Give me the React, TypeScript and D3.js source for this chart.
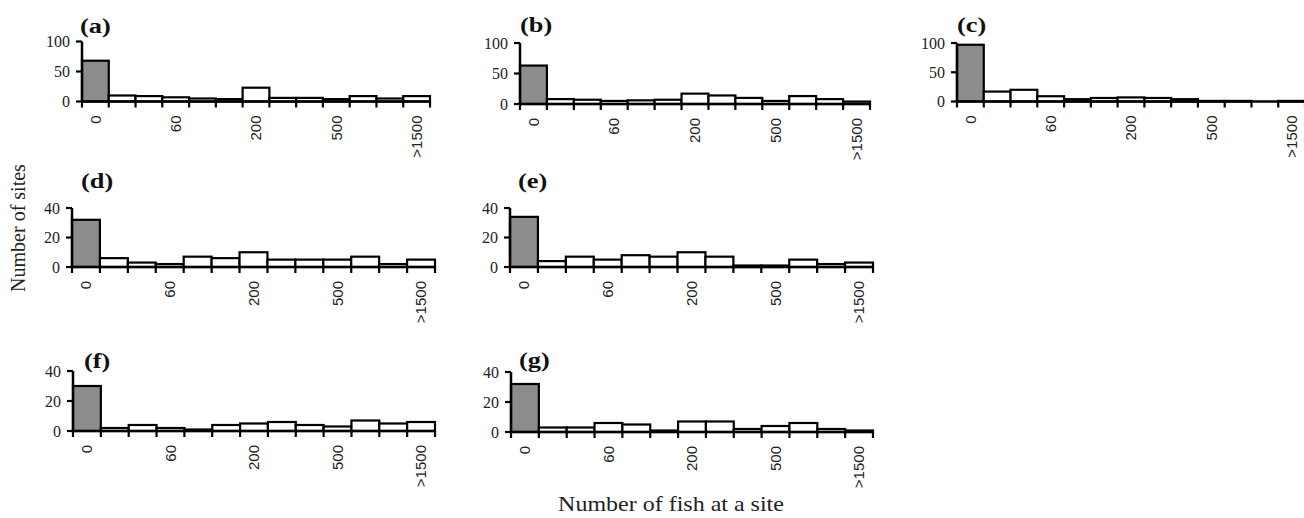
import React from "react";
import * as d3 from "d3";

// tick labels under the 13 bins (empty = tick only)
const binLabels = ["0", "", "", "60", "", "", "200", "", "", "500", "", "", ">1500"];

const siteCountsA = [68, 10, 9, 7, 5, 4, 23, 6, 6, 4, 9, 5, 9];
const siteCountsB = [63, 8, 7, 5, 6, 7, 17, 14, 10, 5, 13, 8, 4];
const siteCountsC = [97, 17, 20, 9, 4, 6, 7, 6, 4, 1, 1, 0, 1];
const siteCountsD = [32, 6, 3, 2, 7, 6, 10, 5, 5, 5, 7, 2, 5];
const siteCountsE = [34, 4, 7, 5, 8, 7, 10, 7, 1, 1, 5, 2, 3];
const siteCountsF = [30, 2, 4, 2, 1, 4, 5, 6, 4, 3, 7, 5, 6];
const siteCountsG = [32, 3, 3, 6, 5, 1, 7, 7, 2, 4, 6, 2, 1];

const yTicksLarge = [0, 50, 100];
const yTicksSmall = [0, 20, 40];

type Panel = {
  letter: string;
  values: number[];
  yTicks: number[];
  x0: number;
  y0: number;
  w: number;
  h: number;
  lx: number;
  ly: number;
};

const panels: Panel[] = [
  { letter: "(a)", values: siteCountsA, yTicks: yTicksLarge, x0: 82, y0: 101.5, w: 348, h: 60, lx: 80, ly: 33 },
  { letter: "(b)", values: siteCountsB, yTicks: yTicksLarge, x0: 520, y0: 104, w: 350, h: 61, lx: 520, ly: 32 },
  { letter: "(c)", values: siteCountsC, yTicks: yTicksLarge, x0: 957, y0: 101.5, w: 348, h: 58.5, lx: 957, ly: 32 },
  { letter: "(d)", values: siteCountsD, yTicks: yTicksSmall, x0: 72, y0: 267, w: 363, h: 59, lx: 81, ly: 188 },
  { letter: "(e)", values: siteCountsE, yTicks: yTicksSmall, x0: 510, y0: 267, w: 363, h: 59, lx: 518, ly: 188 },
  { letter: "(f)", values: siteCountsF, yTicks: yTicksSmall, x0: 73, y0: 431, w: 362, h: 60, lx: 84, ly: 368 },
  { letter: "(g)", values: siteCountsG, yTicks: yTicksSmall, x0: 511, y0: 432, w: 362, h: 60, lx: 519, ly: 367 },
];

const serif = "'Liberation Serif', 'Times New Roman', serif";
const sans = "'Liberation Sans', Arial, sans-serif";

function Histogram({ p }: { p: Panel }) {
  const idx = binLabels.map((_, i) => i);
  const x = d3.scaleBand<number>().domain(idx).range([p.x0, p.x0 + p.w]).padding(0);
  const yMax = p.yTicks[p.yTicks.length - 1];
  const y = d3.scaleLinear().domain([0, yMax]).range([p.y0, p.y0 - p.h]);
  const bw = x.bandwidth();
  const bounds = [...idx.map((i) => x(i) as number), p.x0 + p.w];

  return (
    <g>
      {p.values.map((v, i) =>
        v > 0 ? (
          <rect
            key={i}
            x={x(i)}
            y={y(v)}
            width={bw}
            height={p.y0 - y(v)}
            fill={i === 0 ? "#8c8c8c" : "#fff"}
            stroke="#000"
            strokeWidth={2.2}
          />
        ) : null
      )}
      {/* axes */}
      <line x1={p.x0} x2={p.x0 + p.w} y1={p.y0} y2={p.y0} stroke="#000" strokeWidth={2.5} />
      <line x1={p.x0} x2={p.x0} y1={p.y0} y2={y(yMax)} stroke="#000" strokeWidth={2.5} />
      {bounds.map((bx, i) => (
        <line key={"xt" + i} x1={bx} x2={bx} y1={p.y0} y2={p.y0 + 6} stroke="#000" strokeWidth={2.2} />
      ))}
      {p.yTicks.map((t) => (
        <g key={"yt" + t}>
          <line x1={p.x0 - 6} x2={p.x0} y1={y(t)} y2={y(t)} stroke="#000" strokeWidth={2.2} />
          <text
            x={p.x0 - 12}
            y={y(t)}
            dy="0.35em"
            textAnchor="end"
            fontFamily={serif}
            fontSize={16}
            fill="#222"
          >
            {t}
          </text>
        </g>
      ))}
      {binLabels.map((lab, i) =>
        lab ? (
          <text
            key={"xl" + i}
            transform={`translate(${(x(i) as number) + bw / 2},${p.y0 + 14}) rotate(-90)`}
            dy="0.35em"
            textAnchor="end"
            fontFamily={sans}
            fontSize={15}
            fill="#222"
          >
            {lab}
          </text>
        ) : null
      )}
      <text
        transform={`translate(${p.lx},${p.ly}) scale(1.2,1)`}
        fontFamily={serif}
        fontWeight="bold"
        fontSize={22}
        fill="#111"
      >
        {p.letter}
      </text>
    </g>
  );
}

export default function App() {
  return (
    <svg width={1304} height={518} style={{ position: "absolute", left: 0, top: 0, background: "#fff" }}>
      <rect width={1304} height={518} fill="#fff" />
      {panels.map((p) => (
        <Histogram key={p.letter} p={p} />
      ))}
      <text
        transform="translate(25,228) rotate(-90)"
        textAnchor="middle"
        fontFamily={serif}
        fontSize={20}
        fill="#222"
      >
        Number of sites
      </text>
      <text
        transform="translate(671,511) scale(1.2,1)"
        textAnchor="middle"
        fontFamily={serif}
        fontSize={20}
        fill="#222"
      >
        Number of fish at a site
      </text>
    </svg>
  );
}
